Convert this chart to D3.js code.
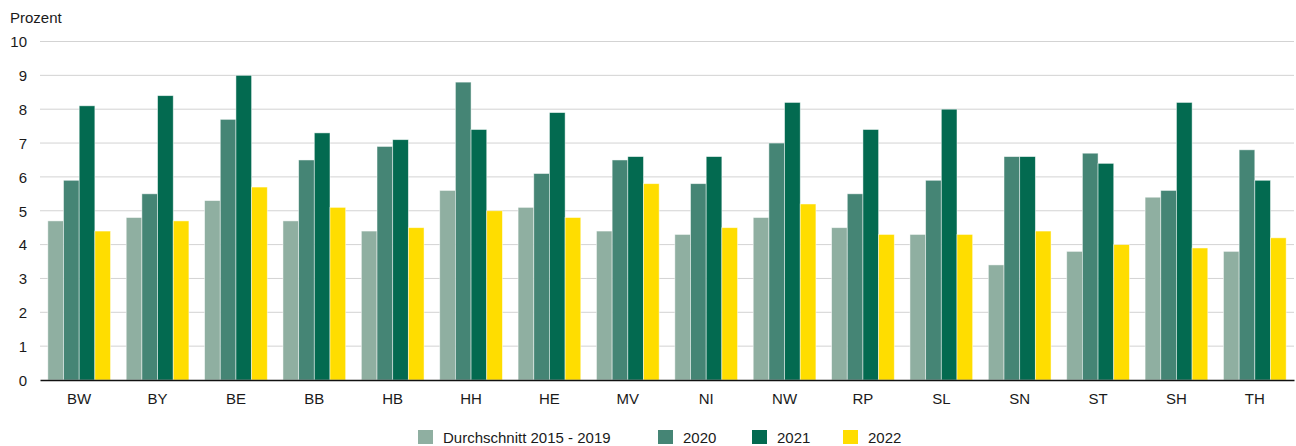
<!DOCTYPE html>
<html><head><meta charset="utf-8">
<script src="https://cdn.jsdelivr.net/npm/d3@7"></script>
<style>body{margin:0;background:#fff}svg{display:block}text{font-family:"Liberation Sans",Arial,sans-serif;fill:#1a1a1a}</style>
</head><body><svg id="c" width="1296" height="446"></svg>
<script>
const categories = ["BW","BY","BE","BB","HB","HH","HE","MV","NI","NW","RP","SL","SN","ST","SH","TH"];
const seriesNames = ["Durchschnitt 2015 - 2019","2020","2021","2022"];
const avg1519 = [4.7,4.8,5.3,4.7,4.4,5.6,5.1,4.4,4.3,4.8,4.5,4.3,3.4,3.8,5.4,3.8];
const v2020 = [5.9,5.5,7.7,6.5,6.9,8.8,6.1,6.5,5.8,7.0,5.5,5.9,6.6,6.7,5.6,6.8];
const v2021 = [8.1,8.4,9.0,7.3,7.1,7.4,7.9,6.6,6.6,8.2,7.4,8.0,6.6,6.4,8.2,5.9];
const v2022 = [4.4,4.7,5.7,5.1,4.5,5.0,4.8,5.8,4.5,5.2,4.3,4.3,4.4,4.0,3.9,4.2];
const yTicks = [0,1,2,3,4,5,6,7,8,9,10];
const colors = ["#8fafa1","#458575","#036a50","#ffdd00"];
const series = [avg1519, v2020, v2021, v2022];

const svg = d3.select("#c");
const pLeft = 40, pRight = 1294, pTop = 41.5, pBottom = 380;
const fs = "15px";
const x = d3.scaleBand().domain(categories).range([pLeft, pRight]).paddingInner(0.2).paddingOuter(0.1);
const xs = d3.scaleBand().domain(seriesNames).range([0, x.bandwidth()]);
const y = d3.scaleLinear().domain([0,10]).range([pBottom, pTop]);

// gridlines
svg.append("g").selectAll("line").data(yTicks.filter(d=>d>0)).join("line")
  .attr("x1", pLeft).attr("x2", pRight).attr("y1", d=>y(d)).attr("y2", d=>y(d))
  .attr("stroke", "#d3d3d3").attr("stroke-width", 1);

// y axis labels
const yAxis = d3.axisLeft(y).tickValues(yTicks).tickSize(0).tickPadding(0).tickFormat(d3.format("d"));
const ga = svg.append("g").attr("transform", `translate(${27},0)`).call(yAxis);
ga.select(".domain").remove();
ga.selectAll("text").style("font-family", '"Liberation Sans",Arial,sans-serif').style("font-size",fs).attr("fill","#1a1a1a").attr("dy","0.35em");

svg.append("text").attr("x", 10).attr("y", 23).style("font-size",fs).text("Prozent");

// bars
const g = svg.append("g");
categories.forEach((c, i) => {
  series.forEach((s, j) => {
    g.append("rect")
      .attr("x", x(c) + xs(seriesNames[j]))
      .attr("y", y(s[i]))
      .attr("width", xs.bandwidth())
      .attr("height", y(0) - y(s[i]))
      .attr("fill", colors[j])
      .attr("stroke", "rgba(255,255,255,0.6)")
      .attr("stroke-width", 0.8);
  });
});

// x axis
const xAxis = d3.axisBottom(x).tickSize(0).tickPadding(13);
const gx = svg.append("g").attr("transform", `translate(0,${pBottom})`).call(xAxis);
gx.select(".domain").attr("stroke", "#111").attr("stroke-width", 1.5);
gx.selectAll("text").style("font-family", '"Liberation Sans",Arial,sans-serif').style("font-size",fs).attr("fill","#1a1a1a");

// legend
const legX = [418, 658, 752, 843];
const leg = svg.append("g");
seriesNames.forEach((n, j) => {
  leg.append("rect").attr("x", legX[j]).attr("y", 430).attr("width", 15).attr("height", 14).attr("fill", colors[j]);
  leg.append("text").attr("x", legX[j] + 25).attr("y", 443).style("font-size",fs).text(n);
});
</script></body></html>
